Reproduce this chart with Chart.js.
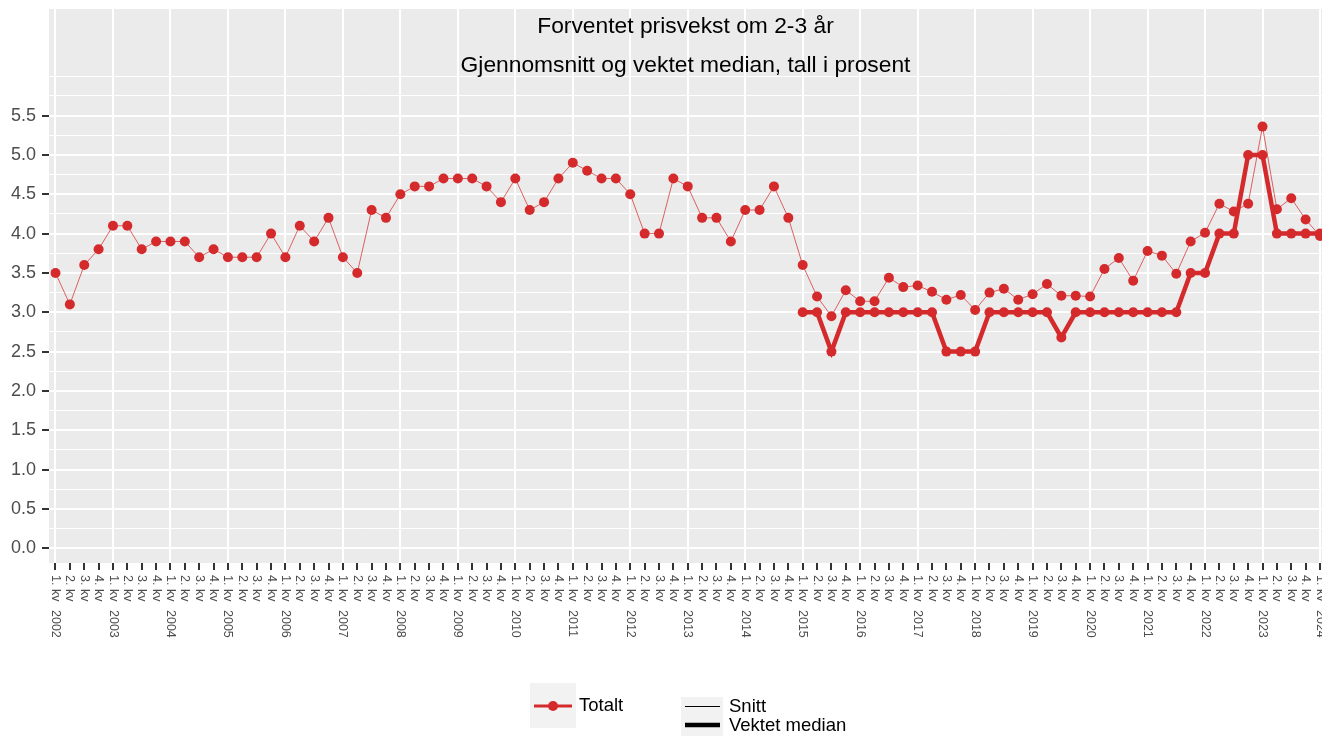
<!DOCTYPE html>
<html lang="no">
<head>
<meta charset="utf-8">
<title>Forventet prisvekst om 2-3 år</title>
<script src="https://cdn.jsdelivr.net/npm/chart.js@4.4.1/dist/chart.umd.min.js"></script>
<style>
  html, body { margin: 0; padding: 0; background: #fff; overflow: hidden; }
  #wrap { width: 1322px; height: 736px; position: relative; }
</style>
</head>
<body>
<div id="wrap"><canvas id="c"></canvas></div>
<script>
// Quarters shown on the x axis: 1. kv 2002 – 1. kv 2024
const aar = [2002, 2003, 2004, 2005, 2006, 2007, 2008, 2009, 2010, 2011, 2012,
             2013, 2014, 2015, 2016, 2017, 2018, 2019, 2020, 2021, 2022, 2023, 2024];
const kvartaler = [];
aar.forEach(a => {
  for (let k = 1; k <= 4; k++) {
    if (a === 2024 && k > 1) break;
    kvartaler.push(k === 1 ? `${k}. kv ${a}` : `${k}. kv`);
  }
});

// Average expected inflation in 2-3 years (per cent)
const snitt = [
  3.5, 3.1, 3.6, 3.8,     // 2002
  4.1, 4.1, 3.8, 3.9,     // 2003
  3.9, 3.9, 3.7, 3.8,     // 2004
  3.7, 3.7, 3.7, 4.0,     // 2005
  3.7, 4.1, 3.9, 4.2,     // 2006
  3.7, 3.5, 4.3, 4.2,     // 2007
  4.5, 4.6, 4.6, 4.7,     // 2008
  4.7, 4.7, 4.6, 4.4,     // 2009
  4.7, 4.3, 4.4, 4.7,     // 2010
  4.9, 4.8, 4.7, 4.7,     // 2011
  4.5, 4.0, 4.0, 4.7,     // 2012
  4.6, 4.2, 4.2, 3.9,     // 2013
  4.3, 4.3, 4.6, 4.2,     // 2014
  3.6, 3.2, 2.95, 3.28,   // 2015
  3.14, 3.14, 3.44, 3.32, // 2016
  3.34, 3.26, 3.16, 3.22, // 2017
  3.03, 3.25, 3.30, 3.16, // 2018
  3.23, 3.36, 3.21, 3.21, // 2019
  3.20, 3.55, 3.69, 3.40, // 2020
  3.78, 3.72, 3.49, 3.90, // 2021
  4.01, 4.38, 4.28, 4.38, // 2022
  5.36, 4.31, 4.45, 4.18, // 2023
  3.97                    // 2024
];

// Weighted median, reported from 1. kv 2015
const medianFra = '1. kv 2015';
const vektetMedian = [
  3.0, 3.0, 2.5, 3.0,     // 2015
  3.0, 3.0, 3.0, 3.0,     // 2016
  3.0, 3.0, 2.5, 2.5,     // 2017
  2.5, 3.0, 3.0, 3.0,     // 2018
  3.0, 3.0, 2.68, 3.0,    // 2019
  3.0, 3.0, 3.0, 3.0,     // 2020
  3.0, 3.0, 3.0, 3.5,     // 2021
  3.5, 4.0, 4.0, 5.0,     // 2022
  5.0, 4.0, 4.0, 4.0,     // 2023
  4.0                     // 2024
];

// y axis: labelled breaks and the grid levels
const yEtiketter = ['0.0', '0.5', '1.0', '1.5', '2.0', '2.5', '3.0', '3.5', '4.0', '4.5', '5.0', '5.5'];
const yBrudd = yEtiketter.map(Number);
const yGrid = [0, 0.25, 0.5, 0.75, 1, 1.25, 1.5, 1.75, 2, 2.25, 2.5, 2.75, 3, 3.25,
               3.5, 3.75, 4, 4.25, 4.5, 4.75, 5, 5.25, 5.5, 5.75, 6];

const tittel = 'Forventet prisvekst om 2-3 år';
const undertittel = 'Gjennomsnitt og vektet median, tall i prosent';

const FONT = '"Liberation Sans", Arial, Helvetica, sans-serif';
const ROD = '#d42a2c';
const ROD_TYNN = 'rgba(212, 42, 44, 0.72)';
const PANEL = '#ebebeb';

const medianStart = kvartaler.indexOf(medianFra);
const erBrudd = v => yBrudd.some(b => Math.abs(b - v) < 1e-9);

// Grey panel, titles inside the panel, rotated quarter labels and the legend
const panelPlugin = {
  id: 'panel',
  beforeDraw(chart) {
    const { ctx, chartArea: a } = chart;
    ctx.save();
    ctx.fillStyle = PANEL;
    ctx.fillRect(a.left, a.top, a.right - a.left, a.bottom - a.top);
    ctx.restore();
  },
  afterDraw(chart) {
    const { ctx, chartArea: a, scales: { x } } = chart;
    ctx.save();

    // titles
    const cx = (a.left + a.right) / 2;
    ctx.fillStyle = '#000';
    ctx.textAlign = 'center';
    ctx.textBaseline = 'middle';
    ctx.font = `22.8px ${FONT}`;
    ctx.fillText(tittel, cx, 27);
    ctx.fillText(undertittel, cx, 66);

    // quarter labels, reading downwards
    ctx.fillStyle = '#4d4d4d';
    ctx.font = `12.5px ${FONT}`;
    ctx.textAlign = 'left';
    kvartaler.forEach((lab, i) => {
      const px = x.getPixelForValue(i);
      const kv = lab.slice(0, 5);
      const yr = lab.slice(6);
      ctx.save();
      ctx.translate(px, a.bottom + 12);
      ctx.rotate(Math.PI / 2);
      ctx.fillText(kv, 0, 0);
      if (yr) ctx.fillText(yr, 35, 0);
      ctx.restore();
    });

    // legend: Totalt
    ctx.fillStyle = '#f2f2f2';
    ctx.fillRect(530, 683, 46, 45);
    ctx.strokeStyle = ROD;
    ctx.lineWidth = 3;
    ctx.beginPath(); ctx.moveTo(534, 706); ctx.lineTo(572, 706); ctx.stroke();
    ctx.fillStyle = ROD;
    ctx.beginPath(); ctx.arc(553, 706, 5, 0, Math.PI * 2); ctx.fill();
    ctx.fillStyle = '#000';
    ctx.font = `18.5px ${FONT}`;
    ctx.textBaseline = 'middle';
    ctx.fillText('Totalt', 579, 706);

    // legend: Snitt / Vektet median
    ctx.fillStyle = '#f2f2f2';
    ctx.fillRect(681, 697, 42, 39);
    ctx.strokeStyle = '#000';
    ctx.lineWidth = 1;
    ctx.beginPath(); ctx.moveTo(685, 706.5); ctx.lineTo(720, 706.5); ctx.stroke();
    ctx.lineWidth = 4.5;
    ctx.beginPath(); ctx.moveTo(685, 725); ctx.lineTo(720, 725); ctx.stroke();
    ctx.fillStyle = '#000';
    ctx.fillText('Snitt', 729, 707);
    ctx.fillText('Vektet median', 729, 726);

    ctx.restore();
  }
};

new Chart(document.getElementById('c'), {
  type: 'line',
  data: {
    datasets: [
      {
        label: 'Vektet median',
        data: vektetMedian.map((v, i) => ({ x: medianStart + i, y: v })),
        borderColor: ROD,
        backgroundColor: ROD,
        borderWidth: 4.5,
        pointRadius: 5,
        pointBorderWidth: 0,
        pointBackgroundColor: ROD,
        order: 0
      },
      {
        label: 'Snitt',
        data: snitt.map((v, i) => ({ x: i, y: v })),
        borderColor: ROD_TYNN,
        backgroundColor: ROD,
        borderWidth: 1,
        pointRadius: 5,
        pointBorderWidth: 0,
        pointBackgroundColor: ROD,
        order: 1
      }
    ]
  },
  options: {
    responsive: true,
    maintainAspectRatio: false,
    animation: false,
    events: [],
    layout: { autoPadding: false, padding: { top: 9, right: 0, bottom: 0, left: 0 } },
    plugins: {
      legend: { display: false },
      tooltip: { enabled: false },
      title: { display: false }
    },
    scales: {
      x: {
        type: 'linear',
        min: -0.452,
        max: 88.14,
        border: { display: false },
        afterBuildTicks: s => { s.ticks = kvartaler.map((_, i) => ({ value: i })); },
        afterFit: s => { s.height = 173; s.paddingLeft = 0; s.paddingRight = 0; },
        ticks: { display: false, autoSkip: false },
        grid: {
          color: c => (c.tick && c.tick.value % 4 === 0) ? '#ffffff' : 'rgba(0,0,0,0)',
          lineWidth: c => (c.tick && c.tick.value % 4 === 0) ? 2 : 0,
          drawTicks: true,
          tickLength: 7,
          tickColor: '#333333',
          tickWidth: 2
        }
      },
      y: {
        type: 'linear',
        min: -0.187,
        max: 6.855,
        border: { display: false },
        afterBuildTicks: s => { s.ticks = yGrid.map(v => ({ value: v })); },
        afterFit: s => { s.width = 49; s.paddingTop = 0; s.paddingBottom = 0; },
        ticks: {
          autoSkip: false,
          padding: 6,
          color: '#4d4d4d',
          font: { size: 18, family: FONT },
          callback: v => {
            const i = yBrudd.findIndex(b => Math.abs(b - v) < 1e-9);
            return i >= 0 ? yEtiketter[i] : '';
          }
        },
        grid: {
          color: '#ffffff',
          lineWidth: c => (c.tick && erBrudd(c.tick.value)) ? 2 : 1,
          drawTicks: true,
          tickLength: 7,
          tickColor: c => (c.tick && erBrudd(c.tick.value)) ? '#333333' : 'rgba(0,0,0,0)',
          tickWidth: 2
        }
      }
    }
  },
  plugins: [panelPlugin]
});
</script>
</body>
</html>
